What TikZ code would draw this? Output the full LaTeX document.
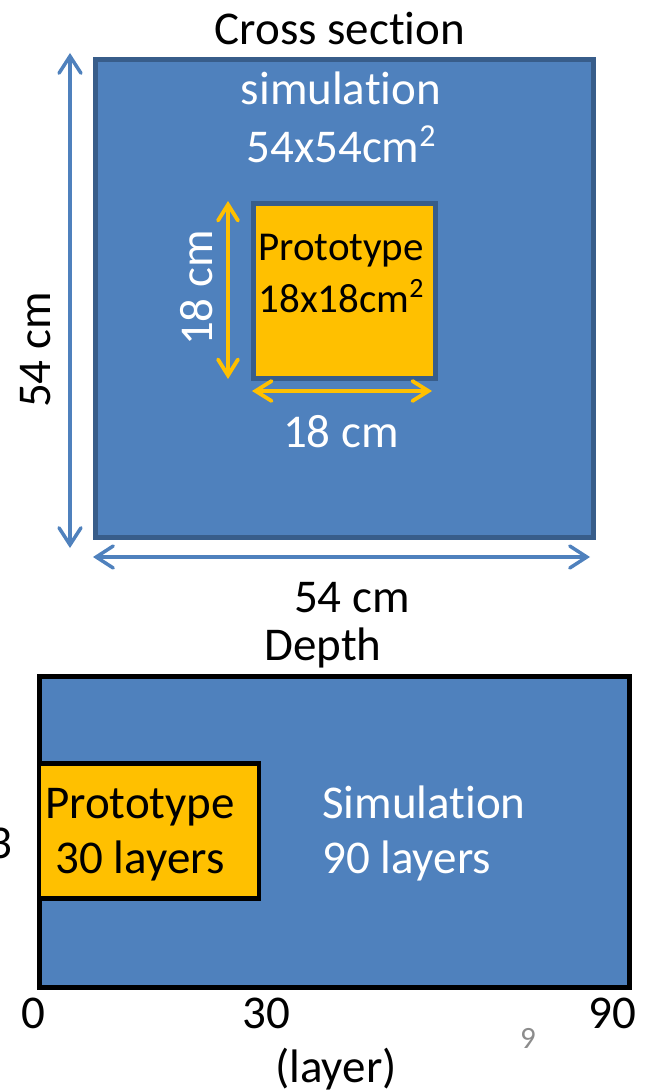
\documentclass[tikz,border=0pt]{standalone}
\usepackage{fontspec}
\setmainfont{Carlito}[Ligatures={NoCommon}]
\usetikzlibrary{arrows.meta}
\definecolor{simblue}{HTML}{4F81BD}
\definecolor{edgeblue}{HTML}{385D8A}
\definecolor{protoorange}{HTML}{FFC000}
\definecolor{pagegray}{HTML}{8C8C8C}
\newcommand{\supsq}[1]{\raisebox{0.36em}{\scalebox{0.68}{#1}}}
\tikzset{
  big/.style={font=\fontsize{47}{56}\selectfont, inner sep=0pt},
  small/.style={font=\fontsize{41}{49}\selectfont, inner sep=0pt},
  boxsq/.style={anchor=north west, inner sep=0pt, line width=5pt, line join=miter},
  bluearrow/.style={draw=simblue, line width=3.5pt, {Straight Barb[length=17pt,width=22pt,line cap=round]}-{Straight Barb[length=17pt,width=22pt,line cap=round]}},
  orangearrow/.style={draw=protoorange, line width=3.8pt, {Straight Barb[length=16pt,width=20pt,line cap=round]}-{Straight Barb[length=16pt,width=20pt,line cap=round]}},
}
\begin{document}
\begin{tikzpicture}[x=1pt,y=-1pt]
\useasboundingbox (0,0) rectangle (646,1091);
% ---- cross section ----
\node[boxsq, draw=edgeblue, fill=simblue, minimum width=498pt, minimum height=477pt] (sim) at (92.5,57.5) {};
\node[boxsq, draw=edgeblue, fill=protoorange, minimum width=182pt, minimum height=174pt] (proto) at (250.5,201.5) {};
\node[big, anchor=base] (title1) at (340,45) {Cross section};
\node[big, anchor=base, white] (simA) at (341,105) {simulation};
\node[big, anchor=base, white] (simB) at (341,163) {54x54cm\supsq{2}};
\node[small, anchor=base] (protoA) at (341,260) {Prototype};
\node[small, anchor=base] (protoB) at (341,312) {18x18cm\supsq{2}};
\coordinate (vt) at (70,53);
\coordinate (vb) at (70,548);
\coordinate (hl) at (93,557);
\coordinate (hr) at (590,557);
\draw[bluearrow] (vt) -- (vb);
\draw[bluearrow] (hl) -- (hr);
\coordinate (ovt) at (228,201);
\coordinate (ovb) at (228,379);
\coordinate (ohl) at (252,391);
\coordinate (ohr) at (432,391);
\draw[orangearrow] (ovt) -- (ovb);
\draw[orangearrow] (ohl) -- (ohr);
\node[big, rotate=90, white] (l18v) at (197,288) {18 cm};
\node[big, anchor=base, white] (l18h) at (341,447) {18 cm};
\node[big, rotate=90] (l54v) at (36,350) {54 cm};
\node[big, anchor=base] (l54h) at (352,612) {54 cm};
% ---- depth ----
\node[big, anchor=base] (title2) at (323,660) {Depth};
\node[boxsq, draw=black, fill=simblue, minimum width=590pt, minimum height=311pt] (dsim) at (36.5,673.5) {};
\node[boxsq, draw=black, fill=protoorange, line width=4.5pt, minimum width=220pt, minimum height=135pt] (dproto) at (36.5,761) {};
\node[big, anchor=base] (dpA) at (140,818) {Prototype};
\node[big, anchor=base] (dpB) at (140,873) {30 layers};
\node[big, anchor=base west, white] (dsA) at (322,818) {Simulation};
\node[big, anchor=base west, white] (dsB) at (322,873) {90 layers};
\node[big, anchor=base east] (three) at (13,858) {3};
\node[big, anchor=base] (t0) at (33,1028) {0};
\node[big, anchor=base] (t30) at (266,1028) {30};
\node[big, anchor=base] (t90) at (612,1028) {90};
\node[big, anchor=base] (tlayer) at (336,1082) {(layer)};
\node[font=\fontsize{31}{36}\selectfont, text=pagegray, inner sep=0pt, anchor=base] (pg) at (528,1048) {9};
\end{tikzpicture}
\end{document}
